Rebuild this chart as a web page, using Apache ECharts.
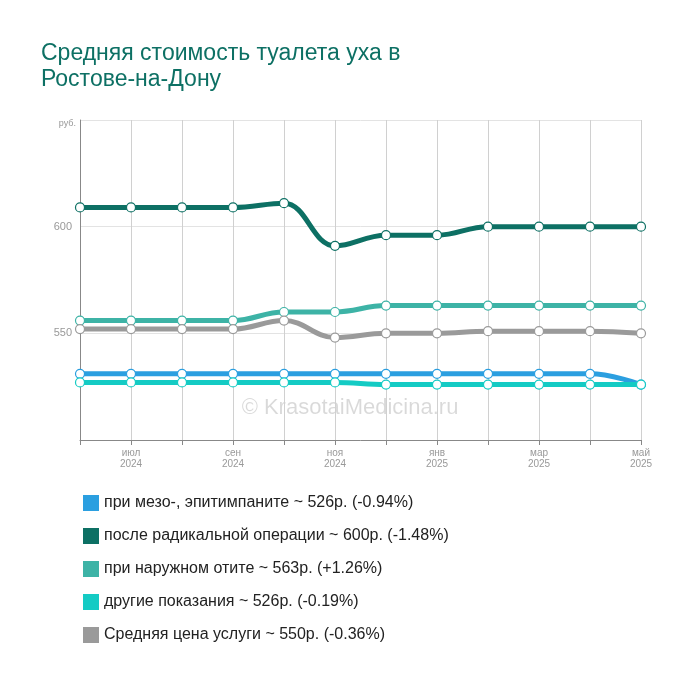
<!DOCTYPE html>
<html>
<head>
<meta charset="utf-8">
<script src="https://cdn.jsdelivr.net/npm/echarts@6/dist/echarts.min.js"></script>
<style>body{margin:0;background:#fff}#main{width:700px;height:685px}</style>
</head>
<body>
<div id="main"></div>
<script>
(function () {
    var months = ['июн\n2024','июл\n2024','авг\n2024','сен\n2024','окт\n2024','ноя\n2024','дек\n2024','янв\n2025','фев\n2025','мар\n2025','апр\n2025','май\n2025'];
    var names = [
        'при мезо-, эпитимпаните ~ 526р. (-0.94%)',
        'после радикальной операции ~ 600р. (-1.48%)',
        'при наружном отите ~ 563р. (+1.26%)',
        'другие показания ~ 526р. (-0.19%)',
        'Средняя цена услуги ~ 550р. (-0.36%)'
    ];
    var colors = ['#2b9fe0', '#0d7064', '#3db3a6', '#14cbc4', '#9a9a9a'];
    var meso = [531,531,531,531,531,531,531,531,531,531,531,526];
    var radical = [609,609,609,609,611,591,596,596,600,600,600,600];
    var otitis = [556,556,556,556,560,560,563,563,563,563,563,563];
    var other = [527,527,527,527,527,527,526,526,526,526,526,526];
    var avg = [552,552,552,552,556,548,550,550,551,551,551,550];
    var all = [meso, radical, otitis, other, avg];

    var myChart = echarts.init(document.getElementById('main'));
    myChart.setOption({
        backgroundColor: '#fff',
        title: {
            text: 'Средняя стоимость туалета уха в\nРостове-на-Дону',
            left: 36, top: 36,
            textStyle: {color: '#0d7064', fontSize: 23, fontWeight: 'normal', fontFamily: 'Liberation Sans', lineHeight: 26}
        },
        graphic: [{
            type: 'text', left: 'center', top: 397,
            style: {text: '© KrasotaiMedicina.ru', fill: 'rgba(0,0,0,0.15)', font: '22px Liberation Sans'}
        }],
        legend: {
            orient: 'vertical', left: 78, top: 490, itemGap: 17,
            icon: 'rect', itemWidth: 16, itemHeight: 16,
            textStyle: {fontSize: 16, color: '#222', fontFamily: 'Liberation Sans'},
            data: names.map(function (n, i) { return {name: n, itemStyle: {color: colors[i], borderWidth: 0}}; })
        },
        grid: {left: 80, right: 59, top: 120, bottom: 245},
        xAxis: {
            type: 'category', boundaryGap: false, data: months,
            axisLine: {lineStyle: {color: '#888'}},
            axisTick: {show: true, interval: 0, lineStyle: {color: '#888'}},
            splitLine: {show: true, interval: 0, lineStyle: {color: '#d0d0d0'}},
            axisLabel: {color: '#999', fontSize: 10, lineHeight: 11, interval: function (i) { return i % 2 === 1; }}
        },
        yAxis: {
            type: 'value', min: 500, max: 650, interval: 50,
            name: 'руб.', nameGap: -8, nameTextStyle: {color: '#999', fontSize: 9, align: 'right', padding: [0, 4, 0, 0]},
            axisLine: {show: true, lineStyle: {color: '#888'}},
            axisLabel: {color: '#999', fontSize: 11, formatter: function (v) { return v === 500 || v === 650 ? '' : v; }},
            splitLine: {lineStyle: {color: '#e3e3e3'}}
        },
        series: all.map(function (d, i) {
            return {
                name: names[i], type: 'line', data: d, smooth: 0.4,
                symbol: 'circle', symbolSize: 9, color: colors[i],
                lineStyle: {width: 5, color: colors[i]},
                itemStyle: {color: '#fff', borderColor: colors[i], borderWidth: 1.2},
                z: 2 + i
            };
        })
    });
})();
</script>
</body>
</html>
